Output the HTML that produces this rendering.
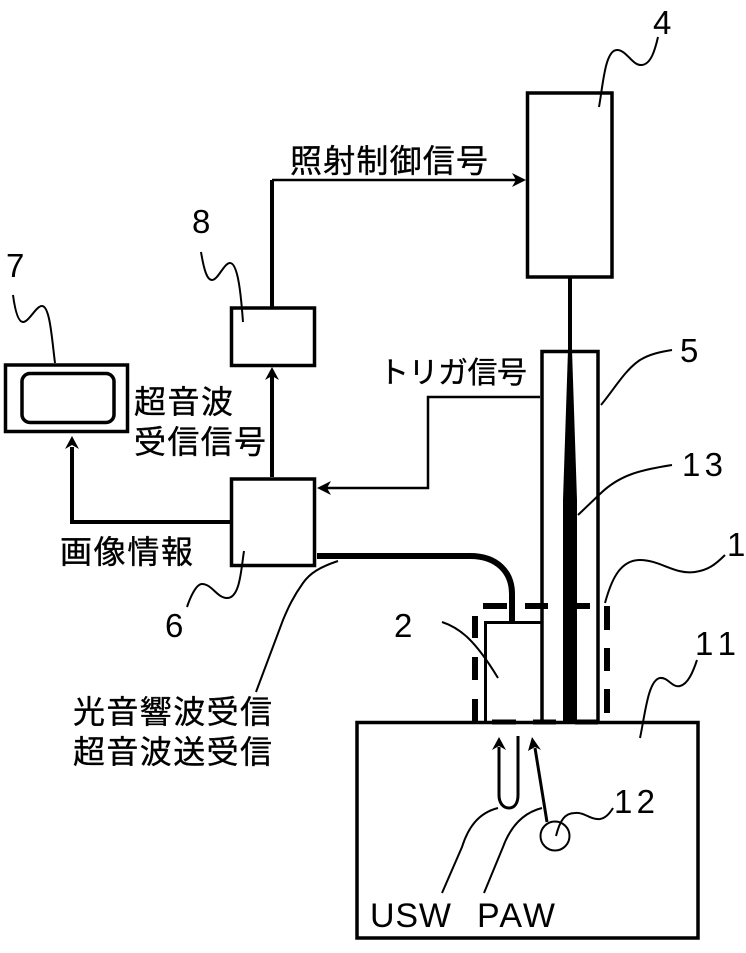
<!DOCTYPE html>
<html><head><meta charset="utf-8">
<style>
html,body{margin:0;padding:0;background:#fff;width:746px;height:953px;overflow:hidden}
svg{display:block}
.j{font-family:"Liberation Sans","Noto Sans CJK JP",sans-serif;font-size:32px;fill:#000;stroke:#000;stroke-width:.35px}
.n{font-family:"Liberation Sans",sans-serif;font-size:33px;fill:#000}
</style></head><body>
<svg width="746" height="953" viewBox="0 0 746 953" xmlns="http://www.w3.org/2000/svg">
<g fill="none" stroke="#000" stroke-width="3.5">
<rect x="527.5" y="93" width="84.5" height="184"/>
<rect x="231.5" y="308" width="83" height="57.5"/>
<rect x="231.5" y="479" width="83" height="86.5"/>
<rect x="5.500" y="365" width="122" height="66.500"/>
<rect x="22" y="373.500" width="92" height="49" rx="8" ry="8"/>
<rect x="357" y="722.500" width="341" height="215.500"/>
<path d="M542 722V351.500H598V722"/>
<path d="M485.500 722V622.500H542" stroke-width="3"/>
<path d="M570 277V352" stroke-width="4"/>
<path d="M272 477V375" stroke-width="4"/>
<path d="M230 522H72V447" stroke-width="4"/>
<path d="M272 307V180" stroke-width="4"/>
<path d="M272 180H518" stroke-width="2.500"/>
<path d="M540 397H428V488H326" stroke-width="2.500"/>
<path d="M317 556H470C497 556 512 572 512 594V622" stroke-width="6"/>
<path d="M483 606H507M525 606H548M577 606H590" stroke-width="6"/>
<path d="M475 616V638M475 657V680M475 699V722" stroke-width="6"/>
<path d="M607 606V630M607 648V671M607 689V713" stroke-width="6"/>
<path d="M492 722H516M533 722H556M575 722H598" stroke-width="5"/>
<path d="M499 747V795C499 804 504 808 509 808C514 808 518 804 518 795V736" stroke-width="3"/>
<path d="M547 822L535 748" stroke-width="3"/>
<circle cx="555" cy="836" r="14.500" stroke-width="2"/>
</g>
<polygon points="568,350 572,350 577,500 577,722 563,722 563,500" fill="#000"/>
<g fill="#000">
<polygon points="272,367 265,380 272,376 279,380"/>
<polygon points="72,436 65,449 72,445 79,449"/>
<polygon points="499,737 492,750 499,746 506,750"/>
<polygon points="532,737 528,751 535,747 541,750"/>
<polygon points="317,488 331,481 327,488 331,495"/>
<polygon points="526,180 512,173 516,180 512,187"/>
</g>
<g fill="none" stroke="#000" stroke-width="2">
<path d="M599 107C603 85 605 50 617 50C627 50 632 66 642 65C651 64 655 50 658 37"/>
<path d="M601 405C615 388 625 370 640 360C650 354 660 352 672 350"/>
<path d="M578 515L601 493C620 475 640 470 672 465"/>
<path d="M605 603C610 585 618 560 640 560C660 560 675 575 695 572C708 570 715 565 725 555"/>
<path d="M640 738C645 715 648 680 660 678C668 677 672 688 680 686C688 684 693 672 697 660"/>
<path d="M442 622C460 628 475 640 498 678"/>
<path d="M556 836C560 820 565 813 575 813C585 812 590 820 600 819C606 818 610 813 613 808"/>
<path d="M498 808C478 813 468 828 462 847L442 893"/>
<path d="M542 808C522 813 510 828 503 847L484 893"/>
<path d="M244 551C241 570 240 598 227 598C217 598 212 584 202 584C196 584 190 598 187 607"/>
<path d="M201 252C204 270 207 280 212 280C218 280 224 263 230 263C238 263 241 295 243 322"/>
<path d="M13 295C15 310 18 322 23 322C29 322 36 306 42 306C50 306 52 340 55 363"/>
<path d="M338 561C320 567 310 573 303 583C293 597 288 608 283 620L256 692"/>
</g>
<text class="j" x="290" y="172" textLength="198" lengthAdjust="spacing">照射制御信号</text>
<text class="j" x="379" y="383" textLength="148" lengthAdjust="spacing" style="font-size:30px">トリガ信号</text>
<text class="j" x="134" y="413" textLength="99" lengthAdjust="spacing">超音波</text>
<text class="j" x="134" y="453" textLength="132" lengthAdjust="spacing">受信信号</text>
<text class="j" x="60" y="563" textLength="133" lengthAdjust="spacing">画像情報</text>
<text class="j" x="73" y="723" textLength="199" lengthAdjust="spacing">光音響波受信</text>
<text class="j" x="73" y="763" textLength="199" lengthAdjust="spacing">超音波送受信</text>
<text class="n" x="653" y="34">4</text>
<text class="n" x="192" y="233">8</text>
<text class="n" x="6" y="277">7</text>
<text class="n" x="680" y="362">5</text>
<text class="n" x="682" y="476" textLength="41">13</text>
<text class="n" x="727" y="556">1</text>
<text class="n" x="394" y="637">2</text>
<text class="n" x="695" y="655" textLength="41">11</text>
<text class="n" x="165" y="637">6</text>
<text class="n" x="614" y="813" textLength="41">12</text>
<text class="n" x="370" y="927" textLength="81" style="font-size:34px">USW</text>
<text class="n" x="477" y="927" textLength="78" style="font-size:34px">PAW</text>
</svg>
</body></html>
